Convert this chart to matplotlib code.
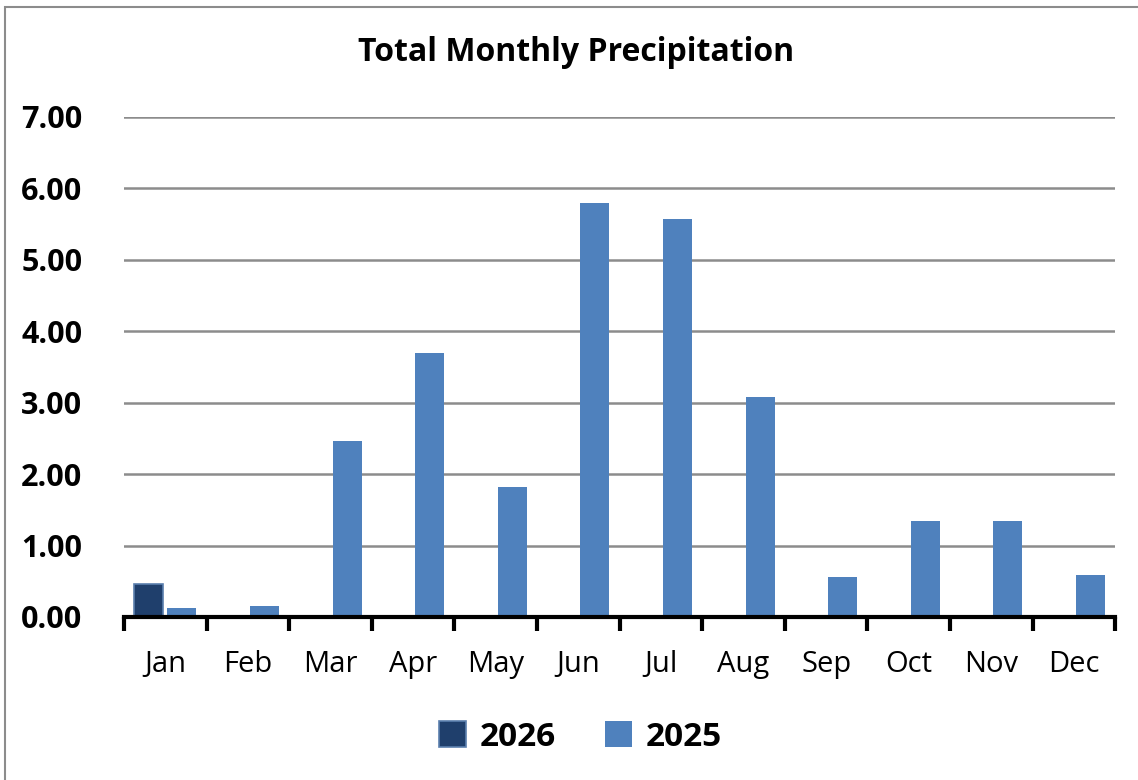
import numpy as np
import matplotlib.pyplot as plt
from matplotlib.patches import Rectangle

months = ['Jan', 'Feb', 'Mar', 'Apr', 'May', 'Jun', 'Jul', 'Aug', 'Sep', 'Oct', 'Nov', 'Dec']
precip_2026 = [0.46]
precip_2025 = [0.12, 0.15, 2.46, 3.70, 1.82, 5.80, 5.57, 3.08, 0.56, 1.34, 1.34, 0.59]
yticks = [0, 1, 2, 3, 4, 5, 6, 7]

plt.rcParams['font.family'] = ['Open Sans', 'DejaVu Sans']

fig = plt.figure(figsize=(11.38, 7.8), dpi=100)
ax = fig.add_axes([0.109, 0.209, 0.871, 0.641])

x = np.arange(len(months))
w = 0.35
ax.bar(x[:len(precip_2026)] - 0.2, precip_2026, w, color='#1f3f6c',
       edgecolor='#5b7fae', linewidth=1.2, label='2026', zorder=3)
ax.bar(x + 0.2, precip_2025, w, color='#4f81bd', label='2025', zorder=3)

ax.set_xlim(-0.5, 11.5)
ax.set_ylim(0, 7)
ax.set_yticks(yticks)
ax.set_yticklabels(['%.2f' % v for v in yticks], fontsize=22, fontweight='bold')
ax.yaxis.grid(True, color='#8c8c8c', linewidth=1.8, zorder=0)
ax.tick_params(axis='y', length=0, pad=30)

ax.set_xticks(x)
ax.set_xticklabels(months, fontsize=21)
ax.set_xticks(np.arange(-0.5, 12, 1), minor=True)
ax.tick_params(axis='x', which='major', length=0, pad=24)
ax.tick_params(axis='x', which='minor', length=10, width=3, direction='out')

for s in ['top', 'right', 'left']:
    ax.spines[s].set_visible(False)
ax.spines['bottom'].set_linewidth(3)
ax.spines['bottom'].set_zorder(4)

fig.text(0.506, 0.933, 'Total Monthly Precipitation', ha='center', va='center',
         fontsize=23, fontweight='bold')

leg = fig.legend(loc='center', bbox_to_anchor=(0.51, 0.055), ncol=2, frameon=False,
                 prop={'size': 24, 'weight': 'bold'}, handlelength=0.8, handleheight=0.8,
                 handletextpad=0.4, columnspacing=1.5)

fig.patches.append(Rectangle((5 / 1138, -0.01), 1.1, 1 - 7 / 780 + 0.01,
                             transform=fig.transFigure, fill=False,
                             edgecolor='#8c8c8c', linewidth=1.5))

fig.savefig('out.png', dpi=100)
